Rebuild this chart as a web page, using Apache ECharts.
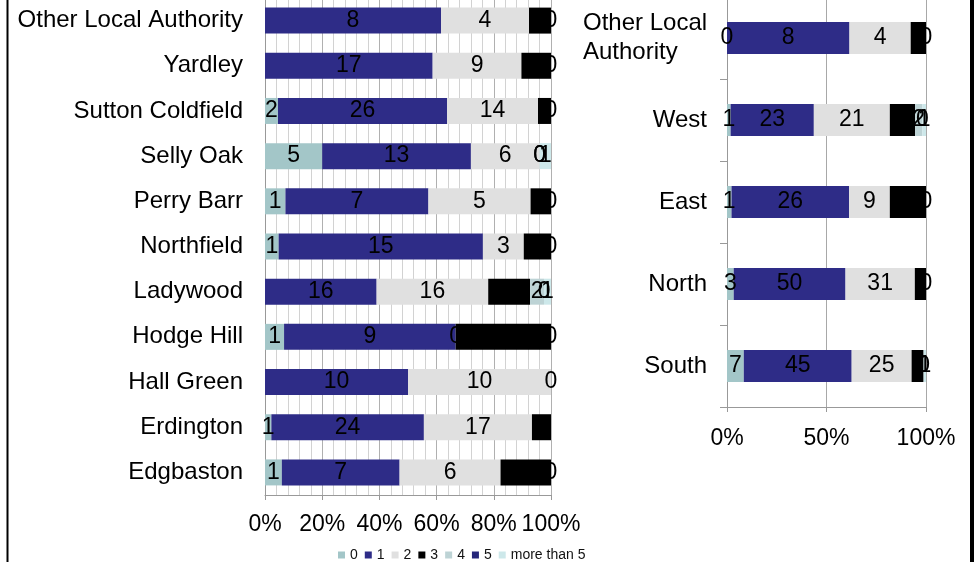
<!DOCTYPE html>
<html>
<head>
<meta charset="utf-8">
<script src="https://cdn.jsdelivr.net/npm/echarts@6/dist/echarts.min.js"></script>
<style>
  html, body { margin: 0; padding: 0; background: #fff; }
  #chart { width: 974px; height: 562px; }
</style>
</head>
<body>
<div id="chart"></div>
<script>
// 图例名称
var seriesNames = ['0', '1', '2', '3', '4', '5', 'more than 5']
var seriesColors = ['#a3c6c8', '#2e2c87', '#e0e0e0', '#000000', '#bdd3d5', '#25267a', '#cde8ea']

// 左图: 类目从下到上
var leftCats = ['Edgbaston', 'Erdington', 'Hall Green', 'Hodge Hill', 'Ladywood', 'Northfield',
  'Perry Barr', 'Selly Oak', 'Sutton Coldfield', 'Yardley', 'Other Local Authority']
var left0 = [1, 1, '-', 1, '-', 1, 1, 5, 2, '-', '-']
var left1 = [7, 24, 10, 9, 16, 15, 7, 13, 26, 17, 8]
var left2 = [6, 17, 10, 0, 16, 3, 5, 6, 14, 9, 4]
var left3 = [3, 3, 0, 5, 6, 2, 1, 0, 2, 3, 1]
var left4 = [0, '-', '-', 0, 2, 0, 0, 0, 0, 0, 0]
var left5 = ['-', '-', '-', '-', 0, '-', '-', '-', '-', '-', '-']
var left6 = ['-', '-', '-', '-', 1, '-', '-', 1, '-', '-', '-']

// 右图: 类目从下到上
var rightCats = ['South', 'North', 'East', 'West', 'Other Local Authority']
var right0 = [7, 3, 1, 1, 0]
var right1 = [45, 50, 26, 23, 8]
var right2 = [25, 31, 9, 21, 4]
var right3 = [5, 5, 8, 7, 1]
var right4 = [0, 0, 0, 2, 0]
var right5 = ['-', '-', '-', 0, '-']
var right6 = [1, '-', '-', 1, '-']

// 坐标轴刻度
var leftTicks = [0, 20, 40, 60, 80, 100]
var rightTicks = [0, 50, 100]

var leftRows = [left0, left1, left2, left3, left4, left5, left6]
var rightRows = [right0, right1, right2, right3, right4, right5, right6]

// 转成百分比, 标签显示原始数值
function toPercent (rows) {
  var n = rows[0].length
  var totals = []
  for (var i = 0; i < n; i++) {
    var t = 0
    rows.forEach(function (r) { if (r[i] !== '-') t += r[i] })
    totals.push(t)
  }
  return rows.map(function (r) {
    return r.map(function (v, i) {
      return v === '-' ? '-' : { value: v / totals[i] * 100, raw: v }
    })
  })
}

var leftPct = toPercent(leftRows)
var rightPct = toPercent(rightRows)

function makeSeries (pct, axisIndex, stack, barWidth) {
  return pct.map(function (data, k) {
    return {
      name: seriesNames[k],
      type: 'bar',
      stack: stack,
      xAxisIndex: axisIndex,
      yAxisIndex: axisIndex,
      barWidth: barWidth,
      itemStyle: { color: seriesColors[k] },
      label: {
        show: true,
        position: 'inside',
        color: '#000',
        fontSize: 23,
        fontFamily: 'Liberation Sans',
        formatter: function (p) { return p.data.raw }
      },
      data: data
    }
  })
}

var chart = echarts.init(document.getElementById('chart'))
chart.setOption({
  animation: false,
  textStyle: { fontFamily: 'Liberation Sans' },
  legend: {
    data: seriesNames,
    left: 333,
    top: 543,
    itemWidth: 7,
    itemHeight: 7,
    itemGap: 7,
    icon: 'rect',
    textStyle: { fontSize: 14, color: '#111', fontFamily: 'Liberation Sans' }
  },
  grid: [
    { left: 265, right: 423, top: -2, height: 497, outerBoundsMode: 'none' },
    { left: 727, right: 48, top: -3, height: 410, outerBoundsMode: 'none' }
  ],
  xAxis: [
    {
      gridIndex: 0,
      type: 'value',
      min: leftTicks[0],
      max: leftTicks[leftTicks.length - 1],
      interval: leftTicks[1] - leftTicks[0],
      axisLine: { show: true, lineStyle: { color: '#999' } },
      axisTick: { show: true, length: 5, lineStyle: { color: '#999' } },
      axisLabel: { fontSize: 23, color: '#000', margin: 18, formatter: '{value}%' },
      splitLine: { lineStyle: { color: '#b0b0b0' } },
      minorTick: { show: false, splitNumber: 5 },
      minorSplitLine: { show: true, lineStyle: { color: '#d2d2d2' } }
    },
    {
      gridIndex: 1,
      type: 'value',
      min: rightTicks[0],
      max: rightTicks[rightTicks.length - 1],
      interval: rightTicks[1] - rightTicks[0],
      axisLine: { show: true, lineStyle: { color: '#999' } },
      axisTick: { show: true, length: 5, lineStyle: { color: '#999' } },
      axisLabel: { fontSize: 23, color: '#000', margin: 20, formatter: '{value}%' },
      splitLine: { lineStyle: { color: '#a8a8a8' } }
    }
  ],
  yAxis: [
    {
      gridIndex: 0,
      type: 'category',
      data: leftCats,
      axisLine: { show: true, lineStyle: { color: '#999' } },
      axisTick: { show: false },
      axisLabel: { fontSize: 24, color: '#000', margin: 22 }
    },
    {
      gridIndex: 1,
      type: 'category',
      data: rightCats,
      axisLine: { show: true, lineStyle: { color: '#999' } },
      axisTick: { show: true, length: 7, lineStyle: { color: '#999' } },
      axisLabel: {
        fontSize: 24,
        color: '#000',
        margin: 20,
        formatter: function (v) {
          return v === 'Other Local Authority' ? '{a|Other Local}\n{a|Authority}' : v
        },
        rich: { a: { width: 124, align: 'left', fontSize: 24, lineHeight: 29, color: '#000' } }
      }
    }
  ],
  graphic: [
    { type: 'rect', shape: { x: 6.5, y: 0, width: 2, height: 562 }, style: { fill: '#000' } },
    { type: 'rect', shape: { x: 970, y: 0, width: 4, height: 562 }, style: { fill: '#000' } }
  ],
  series: makeSeries(leftPct, 0, 'left', 26).concat(makeSeries(rightPct, 1, 'right', 32))
})
</script>
</body>
</html>
